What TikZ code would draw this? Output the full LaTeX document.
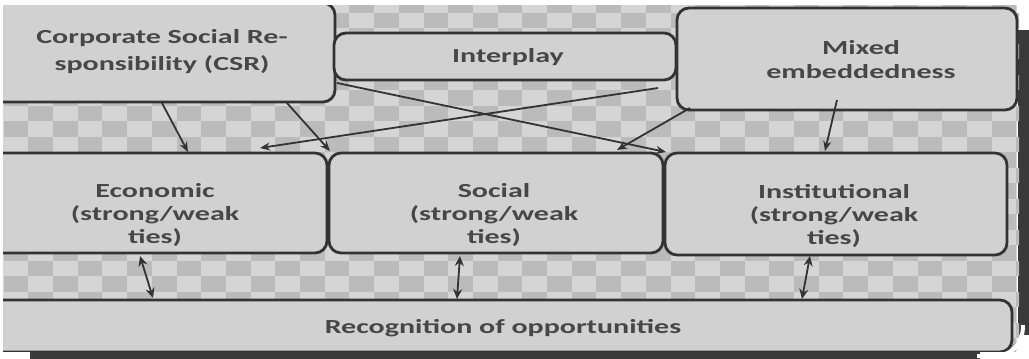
\documentclass[tikz,border=0pt]{standalone}
\usepackage{fontspec}
\newfontfamily\dfont{Carlito}[FakeStretch=1.5]
\usetikzlibrary{calc,arrows.meta}
\definecolor{boxline}{HTML}{333333}
\definecolor{boxfill}{HTML}{D1D1D1}
\definecolor{chklight}{HTML}{D5D5D5}
\definecolor{chkdark}{HTML}{BBBBBB}
\definecolor{txt}{HTML}{474747}
\definecolor{shadowc}{HTML}{3A3A3A}
\tikzset{
  box/.style={draw=boxline, line width=2.8pt, fill=boxfill, rounded corners=12pt,
    rectangle, inner sep=0pt, outer sep=0pt},
  lbl/.style={font=\dfont\bfseries\fontsize{20}{23}\selectfont, text=txt, align=center, inner sep=0pt},
  arr/.style={draw=boxline, line width=1.8pt, -{Stealth[length=10pt,width=8pt]}},
  darr/.style={draw=boxline, line width=1.8pt, {Stealth[length=10pt,width=9pt]}-{Stealth[length=10pt,width=9pt]}}
}
\begin{document}
\begin{tikzpicture}[x=1pt,y=-1pt]
\useasboundingbox (0,0) rectangle (1029,359);
\fill[white] (0,0) rectangle (1029,359);
% page shadow edges
\fill[shadowc] (1018,30) rectangle (1029,335);
\fill[shadowc] (30,351) rectangle (980,359);
\begin{scope}
\clip (3,5) rectangle (1019,351);
\fill[chklight] (3,5) rectangle (1017,351);
\foreach \k in {-1,...,22}{
  \foreach \j in {0,...,41}{
    \pgfmathtruncatemacro\chkp{mod(\j+\k+2,2)}
    \ifnum\chkp=1
      \fill[chkdark] ({3.6+24.7*\j},{12.5+15.5*\k}) rectangle ({3.6+24.7*(\j+1)},{12.5+15.5*(\k+1)});
    \fi
  }
}
% boxes
\node[box, minimum width=345pt, minimum height=99pt] (csr) at (162.5,52.5) {};
\node[box, minimum width=342pt, minimum height=47pt] (inter) at (505,56.5) {};
\node[box, minimum width=340pt, minimum height=102pt] (mixed) at (847,59) {};
\node[box, minimum width=337pt, minimum height=100pt] (econ) at (158.5,203) {};
\node[box, minimum width=334pt, minimum height=100pt] (social) at (496,203) {};
\node[box, minimum width=342pt, minimum height=102pt] (inst) at (836,204) {};
\node[box, minimum width=1022pt, minimum height=52pt] (recog) at (501,326) {};
% labels
\node[lbl, font=\dfont\bfseries\fontsize{20}{27}\selectfont] (csrt) at (162,52) {Corporate Social Re-\\sponsibility (CSR)};
\node[lbl] (intert) at (508,57) {Interplay};
\node[lbl, font=\dfont\bfseries\fontsize{20}{24}\selectfont] (mixedt) at (861,60) {Mixed\\embeddedness};
\node[lbl] (econt) at (155,215) {Economic\\(strong/weak\\ties)};
\node[lbl] (socialt) at (494,215) {Social\\(strong/weak\\ties)};
\node[lbl] (instt) at (834,216) {Institutional\\(strong/weak\\ties)};
\node[lbl] (recogt) at (503,328) {Recognition of opportunities};
% arrows
\draw[arr] ($(csr.south west)+(172,1)$) -- ($(econ.north west)+(198,-1)$);
\draw[arr] ($(csr.south west)+(297,1)$) -- ($(social.north west)+(1,-2)$);
\draw[arr] ($(csr.south east)+(2,-19)$) -- ($(inst.north west)+(1,-1)$);
\draw[arr] ($(mixed.south west)+(-19,-22)$) -- ($(econ.north west)+(270,-5)$);
\draw[arr] ($(mixed.south west)+(13,-2)$) -- ($(social.north east)+(-46,-3)$);
\draw[arr] ($(mixed.south west)+(160,-10)$) -- ($(inst.north west)+(160,-2)$);
\draw[darr] ($(econ.south west)+(150,3)$) -- ($(recog.north west)+(163,-2)$);
\draw[darr] ($(social.south west)+(131,3)$) -- ($(recog.north west)+(467,-1)$);
\draw[darr] ($(inst.south west)+(145,1)$) -- ($(recog.north west)+(812,-1)$);
\end{scope}
\draw[white, line width=4pt] (977,356) -- (992,356) .. controls (1012,356) and (1023,345) .. (1023,325);
\end{tikzpicture}
\end{document}
